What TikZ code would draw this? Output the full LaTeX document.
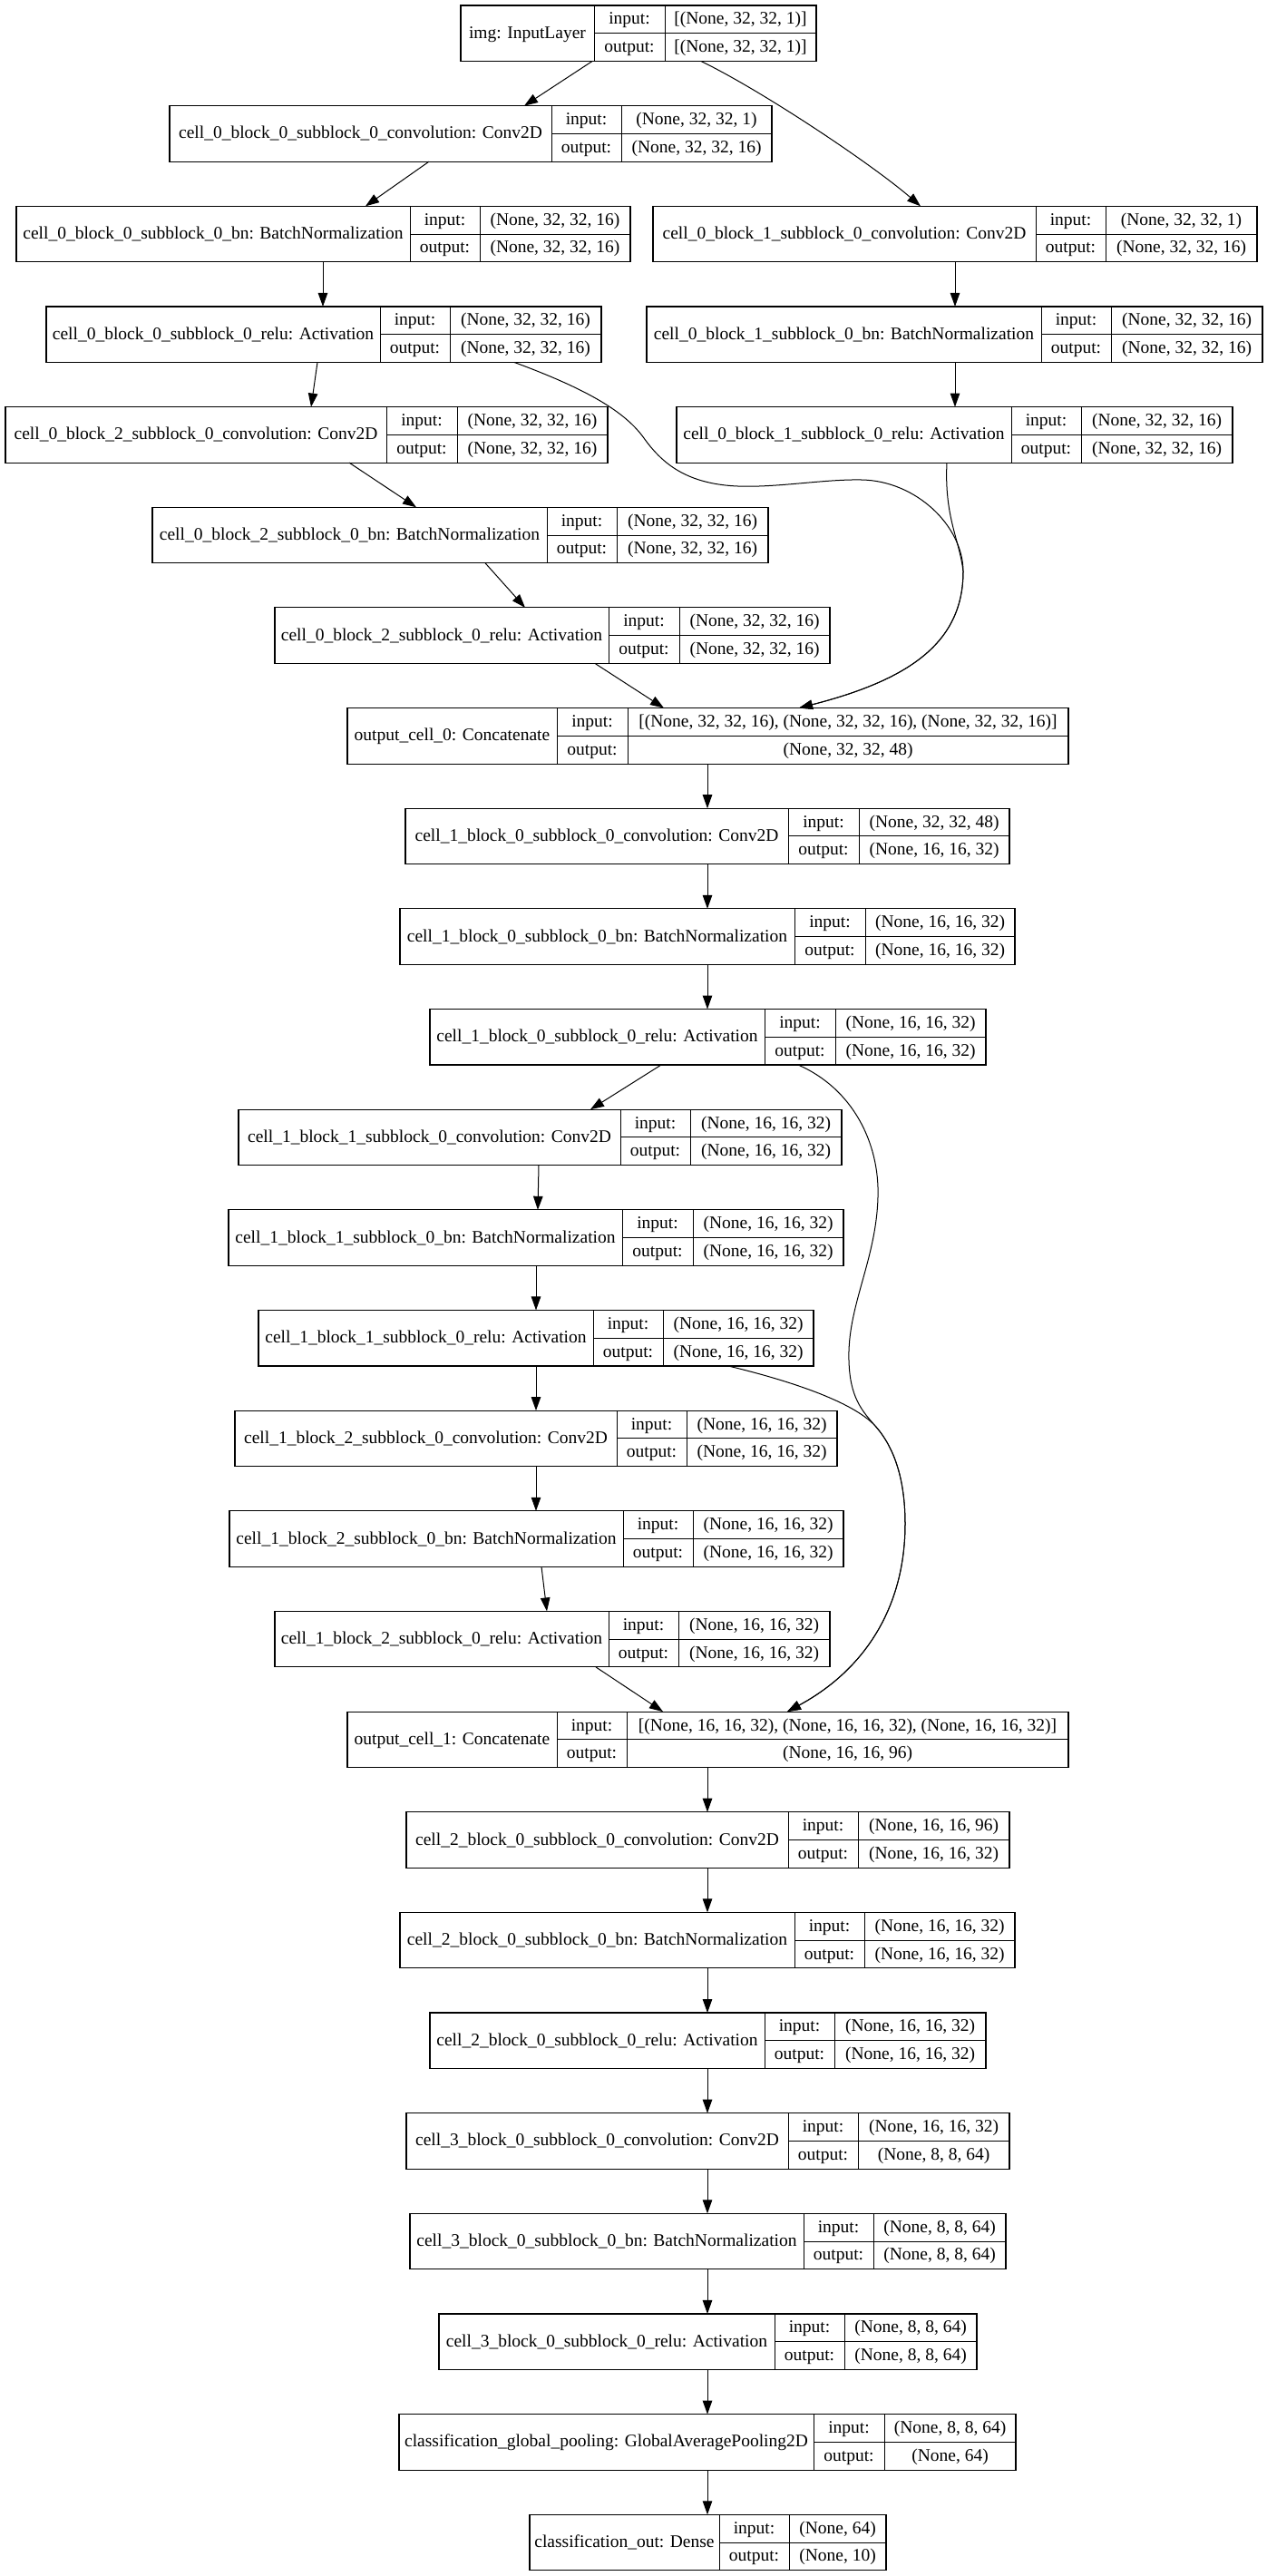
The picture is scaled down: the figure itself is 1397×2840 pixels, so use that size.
\documentclass[tikz,border=0pt]{standalone}
\usepackage{fontspec}
\setmainfont{Liberation Serif}
\usetikzlibrary{arrows.meta}

% One Keras layer record: name | input:/output: | shapes
% #1 name, #2 row, #3 left, #4 first divider, #5 second divider, #6 right,
% #7 layer label, #8 input shape, #9 output shape
\newcommand\layer[9]{%
  \pgfmathsetmacro\layery{6+110.65*#2}%
  \pgfmathsetmacro\layerwidth{#6-#3}%
  \node[box, minimum width=\layerwidth pt, anchor=north west] (#1) at (#3,\layery) {};
  \draw[divider] (#4,\layery) -- (#4,\layery+61.5)
                 (#5,\layery) -- (#5,\layery+61.5)
                 (#4,\layery+30.75) -- (#6,\layery+30.75);
  \node[txt] (#1-label) at ({(#3+#4)/2},\layery+30.75) {#7};
  \node[txt] (#1-in)    at ({(#4+#5)/2},\layery+15.4) {input:};
  \node[txt] (#1-out)   at ({(#4+#5)/2},\layery+46.1) {output:};
  \node[txt] (#1-inv)   at ({(#5+#6)/2},\layery+15.4) {#8};
  \node[txt] (#1-outv)  at ({(#5+#6)/2},\layery+46.1) {#9};
}

\begin{document}
\begin{tikzpicture}[x=1pt, y=-1pt,
  box/.style={draw=black, line width=1.1pt, inner sep=0pt, outer sep=0pt, minimum height=61.5pt},
  divider/.style={draw=black, line width=1pt},
  txt/.style={inner sep=0pt, font=\fontsize{19.5pt}{23pt}\selectfont, text height=14.6pt, text depth=3.5pt},
  link/.style={draw=black, line width=1pt, -{Triangle[length=15pt,width=10.5pt]}}]

\fill[white] (0,0) rectangle (1397,2840);
\useasboundingbox (0,0) rectangle (1397,2840);

% cell 0
\layer{img}{0}{508}{655}{733}{900}{img: InputLayer}{[(None, 32, 32, 1)]}{[(None, 32, 32, 1)]}
\layer{conv00}{1}{187}{608}{685}{851}{cell\_0\_block\_0\_subblock\_0\_convolution: Conv2D}{(None, 32, 32, 1)}{(None, 32, 32, 16)}
\layer{bn00}{2}{18}{452}{529}{695}{cell\_0\_block\_0\_subblock\_0\_bn: BatchNormalization}{(None, 32, 32, 16)}{(None, 32, 32, 16)}
\layer{conv10}{2}{720}{1142}{1219}{1386}{cell\_0\_block\_1\_subblock\_0\_convolution: Conv2D}{(None, 32, 32, 1)}{(None, 32, 32, 16)}
\layer{relu00}{3}{51}{419}{496}{663}{cell\_0\_block\_0\_subblock\_0\_relu: Activation}{(None, 32, 32, 16)}{(None, 32, 32, 16)}
\layer{bn10}{3}{713}{1148}{1225}{1392}{cell\_0\_block\_1\_subblock\_0\_bn: BatchNormalization}{(None, 32, 32, 16)}{(None, 32, 32, 16)}
\layer{conv20}{4}{6}{426}{504}{670}{cell\_0\_block\_2\_subblock\_0\_convolution: Conv2D}{(None, 32, 32, 16)}{(None, 32, 32, 16)}
\layer{relu10}{4}{746}{1115}{1192}{1359}{cell\_0\_block\_1\_subblock\_0\_relu: Activation}{(None, 32, 32, 16)}{(None, 32, 32, 16)}
\layer{bn20}{5}{168}{603}{680}{847}{cell\_0\_block\_2\_subblock\_0\_bn: BatchNormalization}{(None, 32, 32, 16)}{(None, 32, 32, 16)}
\layer{relu20}{6}{303}{671}{749}{915}{cell\_0\_block\_2\_subblock\_0\_relu: Activation}{(None, 32, 32, 16)}{(None, 32, 32, 16)}
\layer{cat0}{7}{383}{614}{692}{1178}{output\_cell\_0: Concatenate}{[(None, 32, 32, 16), (None, 32, 32, 16), (None, 32, 32, 16)]}{(None, 32, 32, 48)}

% cell 1
\layer{conv01}{8}{447}{869}{947}{1113}{cell\_1\_block\_0\_subblock\_0\_convolution: Conv2D}{(None, 32, 32, 48)}{(None, 16, 16, 32)}
\layer{bn01}{9}{441}{876}{954}{1119}{cell\_1\_block\_0\_subblock\_0\_bn: BatchNormalization}{(None, 16, 16, 32)}{(None, 16, 16, 32)}
\layer{relu01}{10}{474}{843}{921}{1087}{cell\_1\_block\_0\_subblock\_0\_relu: Activation}{(None, 16, 16, 32)}{(None, 16, 16, 32)}
\layer{conv11}{11}{263}{684}{761}{928}{cell\_1\_block\_1\_subblock\_0\_convolution: Conv2D}{(None, 16, 16, 32)}{(None, 16, 16, 32)}
\layer{bn11}{12}{252}{686}{764}{930}{cell\_1\_block\_1\_subblock\_0\_bn: BatchNormalization}{(None, 16, 16, 32)}{(None, 16, 16, 32)}
\layer{relu11}{13}{285}{654}{731}{897}{cell\_1\_block\_1\_subblock\_0\_relu: Activation}{(None, 16, 16, 32)}{(None, 16, 16, 32)}
\layer{conv21}{14}{259}{680}{757}{923}{cell\_1\_block\_2\_subblock\_0\_convolution: Conv2D}{(None, 16, 16, 32)}{(None, 16, 16, 32)}
\layer{bn21}{15}{253}{687}{764}{930}{cell\_1\_block\_2\_subblock\_0\_bn: BatchNormalization}{(None, 16, 16, 32)}{(None, 16, 16, 32)}
\layer{relu21}{16}{303}{671}{748}{915}{cell\_1\_block\_2\_subblock\_0\_relu: Activation}{(None, 16, 16, 32)}{(None, 16, 16, 32)}
\layer{cat1}{17}{383}{614}{691}{1178}{output\_cell\_1: Concatenate}{[(None, 16, 16, 32), (None, 16, 16, 32), (None, 16, 16, 32)]}{(None, 16, 16, 96)}

% cells 2, 3 and classifier
\layer{conv02}{18}{448}{869}{946}{1113}{cell\_2\_block\_0\_subblock\_0\_convolution: Conv2D}{(None, 16, 16, 96)}{(None, 16, 16, 32)}
\layer{bn02}{19}{441}{876}{953}{1119}{cell\_2\_block\_0\_subblock\_0\_bn: BatchNormalization}{(None, 16, 16, 32)}{(None, 16, 16, 32)}
\layer{relu02}{20}{474}{843}{920}{1087}{cell\_2\_block\_0\_subblock\_0\_relu: Activation}{(None, 16, 16, 32)}{(None, 16, 16, 32)}
\layer{conv03}{21}{448}{869}{946}{1113}{cell\_3\_block\_0\_subblock\_0\_convolution: Conv2D}{(None, 16, 16, 32)}{(None, 8, 8, 64)}
\layer{bn03}{22}{452}{886}{963}{1109}{cell\_3\_block\_0\_subblock\_0\_bn: BatchNormalization}{(None, 8, 8, 64)}{(None, 8, 8, 64)}
\layer{relu03}{23}{484}{854}{931}{1077}{cell\_3\_block\_0\_subblock\_0\_relu: Activation}{(None, 8, 8, 64)}{(None, 8, 8, 64)}
\layer{gap}{24}{440}{897}{975}{1120}{classification\_global\_pooling: GlobalAveragePooling2D}{(None, 8, 8, 64)}{(None, 64)}
\layer{dense}{25}{584}{793}{870}{977}{classification\_out: Dense}{(None, 64)}{(None, 10)}

% connectors, cell 0
\draw[link] ([xshift=145pt]img.south west) -- ([xshift=391pt]conv00.north west);
\draw[link] ([xshift=265pt]img.south west) .. controls (840,100) and (960,180) .. ([xshift=295pt]conv10.north west);
\draw[link] ([xshift=286pt]conv00.south west) -- ([xshift=385pt]bn00.north west);
\draw[link] ([xshift=333pt]conv10.south west) -- ([xshift=340pt]bn10.north west);
\draw[link] ([xshift=338pt]bn00.south west) -- ([xshift=305pt]relu00.north west);
\draw[link] ([xshift=340pt]bn10.south west) -- ([xshift=307pt]relu10.north west);
\draw[link] ([xshift=299pt]relu00.south west) -- ([xshift=337pt]conv20.north west);
\draw[link] ([xshift=516pt]relu00.south west)
   .. controls (650,430) and (690,455) .. (710,483)
   .. controls (730,511) and (755,530) .. (800,535)
   .. controls (845,540) and (905,528) .. (950,529)
   .. controls (1010,530) and (1062,580) .. (1062,630)
   .. controls (1062,710) and (1000,750) .. ([xshift=498pt]cat0.north west);
\draw[link] ([xshift=298pt]relu10.south west)
   .. controls (1041,570) and (1058,595) .. (1062,630)
   .. controls (1062,710) and (1000,750) .. ([xshift=498pt]cat0.north west);
\draw[link] ([xshift=379pt]conv20.south west) -- ([xshift=291pt]bn20.north west);
\draw[link] ([xshift=367pt]bn20.south west) -- ([xshift=276pt]relu20.north west);
\draw[link] ([xshift=353pt]relu20.south west) -- ([xshift=349pt]cat0.north west);

% connectors, cell 1
\draw[link] ([xshift=397pt]cat0.south west) -- ([xshift=333pt]conv01.north west);
\draw[link] ([xshift=333pt]conv01.south west) -- ([xshift=339pt]bn01.north west);
\draw[link] ([xshift=339pt]bn01.south west) -- ([xshift=306pt]relu01.north west);
\draw[link] ([xshift=255pt]relu01.south west) -- ([xshift=388pt]conv11.north west);
\draw[link] ([xshift=406pt]relu01.south west)
   .. controls (940,1200) and (970,1260) .. (968,1320)
   .. controls (966,1390) and (934,1440) .. (936,1500)
   .. controls (937,1540) and (950,1555) .. (965,1572)
   .. controls (990,1600) and (998,1640) .. (998,1680)
   .. controls (998,1770) and (955,1840) .. ([xshift=485pt]cat1.north west);
\draw[link] ([xshift=518pt]relu11.south west)
   .. controls (870,1522) and (940,1545) .. (965,1572)
   .. controls (990,1600) and (998,1640) .. (998,1680)
   .. controls (998,1770) and (955,1840) .. ([xshift=485pt]cat1.north west);
\draw[link] ([xshift=331pt]conv11.south west) -- ([xshift=341pt]bn11.north west);
\draw[link] ([xshift=339pt]bn11.south west) -- ([xshift=306pt]relu11.north west);
\draw[link] ([xshift=306pt]relu11.south west) -- ([xshift=332pt]conv21.north west);
\draw[link] ([xshift=332pt]conv21.south west) -- ([xshift=338pt]bn21.north west);
\draw[link] ([xshift=344pt]bn21.south west) -- ([xshift=300pt]relu21.north west);
\draw[link] ([xshift=354pt]relu21.south west) -- ([xshift=348pt]cat1.north west);

% connectors, cells 2, 3 and classifier
\draw[link] ([xshift=397pt]cat1.south west) -- ([xshift=332pt]conv02.north west);
\draw[link] ([xshift=332pt]conv02.south west) -- ([xshift=339pt]bn02.north west);
\draw[link] ([xshift=339pt]bn02.south west) -- ([xshift=306pt]relu02.north west);
\draw[link] ([xshift=306pt]relu02.south west) -- ([xshift=332pt]conv03.north west);
\draw[link] ([xshift=332pt]conv03.south west) -- ([xshift=328pt]bn03.north west);
\draw[link] ([xshift=328pt]bn03.south west) -- ([xshift=296pt]relu03.north west);
\draw[link] ([xshift=296pt]relu03.south west) -- ([xshift=340pt]gap.north west);
\draw[link] ([xshift=340pt]gap.south west) -- ([xshift=196pt]dense.north west);
\end{tikzpicture}
\end{document}
